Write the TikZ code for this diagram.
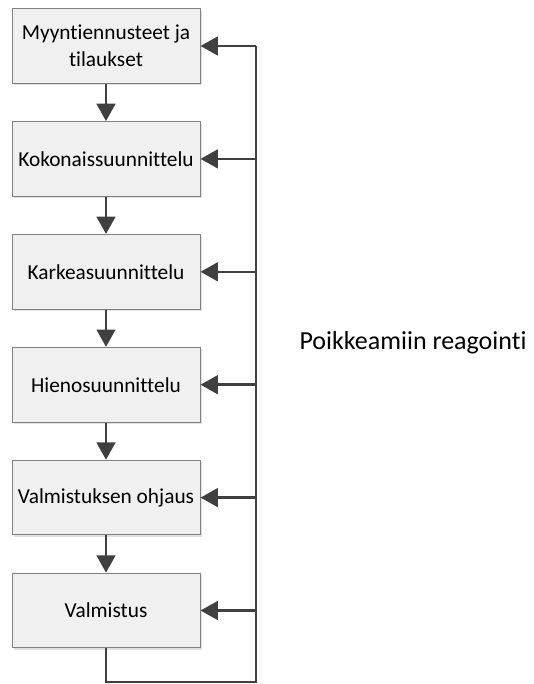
\documentclass[tikz,border=0pt]{standalone}
\usepackage{fontspec}
\setmainfont{Carlito}[Ligatures=NoCommon]
\usetikzlibrary{arrows.meta,shadows}
\definecolor{linegray}{HTML}{404040}
\definecolor{boxgray}{HTML}{F0F0F0}
\begin{document}
\begin{tikzpicture}[x=0.75pt,y=-0.75pt, line join=miter,
	box/.style={draw=black!50, line width=0.75pt, fill=boxgray, minimum width=141pt, minimum height=56pt, align=center,
		font=\fontsize{16}{20}\selectfont, drop shadow={shadow xshift=1.5pt,shadow yshift=-1.5pt,fill=black!12,opacity=1}},
	conn/.style={draw=linegray, line width=1.9pt},
	arr/.style={conn, -{Triangle[length=13pt,width=14pt]}}]
	\useasboundingbox (0,0) rectangle (533,684);
	\def\xbox{106} \def\xback{256} \def\ybot{682}
	\foreach \i/\t in {1/{Myyntiennusteet ja\\tilaukset},2/Kokonaissuunnittelu,3/Karkeasuunnittelu,4/Hienosuunnittelu,5/Valmistuksen ohjaus,6/Valmistus}
		\node[box] (b\i) at (\xbox,{46+112.9*(\i-1)}) {\t};
	\node[font=\fontsize{19.5}{23}\selectfont] (poik) at (413,343) {Poikkeamiin reagointi};
	\foreach \i [evaluate=\i as \j using int(\i+1)] in {1,...,5} \draw[arr] (b\i) -- (b\j);
	\coordinate (bot) at (\xbox,\ybot);
	\coordinate (cor) at (\xback,\ybot);
	\coordinate (top) at (\xback,46);
	\draw[conn] (b6) -- (bot) -- (cor) -- (top);
	\foreach \i in {1,...,6} \draw[arr] (b\i.east -| cor) -- (b\i.east);
\end{tikzpicture}
\end{document}
